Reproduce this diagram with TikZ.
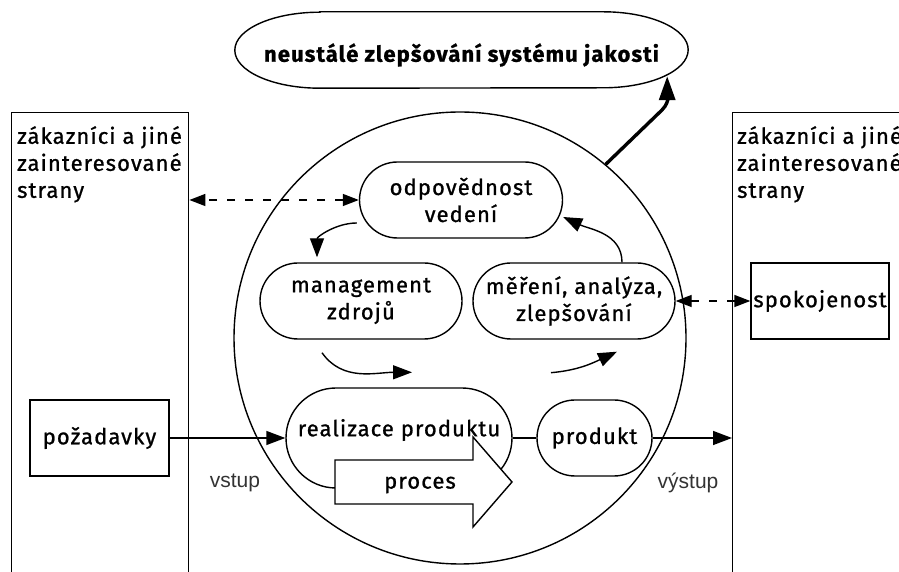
\documentclass[tikz,border=0pt]{standalone}
\usepackage{fontspec}
\setmainfont{Fira Sans}
\newfontfamily\boxfont{Fira Sans}[LetterSpace=5, FakeBold=1]
\newfontfamily\labelfont{Liberation Sans}
\usetikzlibrary{shapes.misc,shapes.geometric,arrows.meta,calc}

\newcommand\boxtext{\boxfont\fontsize{22}{27}\selectfont}
\newcommand\titletext{\boxfont\fontsize{22}{26}\selectfont\bfseries}

\begin{document}
\begin{tikzpicture}[x=1pt,y=1pt,
  outline/.style={line width=1.4pt},
  box/.style={draw, outline, rectangle, minimum height=76pt, inner sep=0pt, font=\boxtext},
  pill/.style={draw, outline, rounded rectangle, minimum height=76pt, inner sep=0pt, align=center, font=\boxtext},
  party/.style={draw, outline, rectangle, anchor=north west, minimum height=560pt, inner sep=0pt},
  partytext/.style={anchor=north west, align=left, inner sep=0pt, font=\boxtext},
  flow/.style={outline, -{Triangle[length=19pt,width=14pt]}},
  info/.style={outline, dashed, dash pattern=on 8pt off 10pt, {Triangle[length=16pt,width=12pt]}-{Triangle[length=16pt,width=12pt]}},
  improve/.style={line width=3.4pt, -{Triangle[length=24pt,width=16pt]}},
  io/.style={font=\labelfont\fontsize{21}{24}\selectfont, text=black!80, inner sep=0pt}]

\useasboundingbox (0,0) rectangle (899,572);
\clip (0,0) rectangle (899,572);

% continual improvement goal
\node[minimum width=453pt, minimum height=76pt, inner sep=0pt] (title) at (461.5,522) {};
\draw[outline] ([xshift=85]title.north west) -- ([xshift=-85]title.north east)
  arc[start angle=90, end angle=-90, x radius=85, y radius=38]
  -- ([xshift=85]title.south west)
  arc[start angle=270, end angle=90, x radius=85, y radius=38] -- cycle;
\node[font=\titletext] (titletext) at ([yshift=-5]title.center) {neustálé zlepšování systému jakosti};

% customers and other interested parties
\node[party, minimum width=177pt] (cl) at (11,460) {};
\node[partytext] (cltext) at ([shift={(6,-14)}]cl.north west) {zákazníci a jiné\\zainteresované\\strany};
\node[party, minimum width=230pt] (cr) at (732,460) {};
\node[partytext] (crtext) at ([shift={(5,-14)}]cr.north west) {zákazníci a jiné\\zainteresované\\strany};

% quality management system
\node[draw, outline, circle, minimum size=452pt, inner sep=0pt] (sys) at (460,234) {};

\node[pill, minimum width=203pt] (odp) at (461,372) {odpovědnost\\vedení};
\node[pill, minimum width=202pt] (mgmt) at (361,271) {management\\zdrojů};
\node[pill, minimum width=202pt] (mer) at (574,271) {měření, analýza,\\zlepšování};
\node[pill, minimum width=226pt, minimum height=100pt] (real) at (399,134) {};
\node[pill, minimum width=115pt] (prod) at (594.5,134) {produkt};

\node[box, minimum width=139pt] (poz) at (99.5,134) {požadavky};
\node[box, minimum width=138pt] (spok) at (820,271) {spokojenost};

% process arrow over the realization
\draw[outline, fill=white] (335,112) -- (473,112) -- (473,135) -- (512,90)
  -- (473,45) -- (473,68) -- (335,68) -- cycle;
\node[font=\boxtext, inner sep=0pt] (proc) at (420,87) {proces};
\node[font=\boxtext, inner sep=0pt] (realtext) at ([yshift=8]real.center) {realizace produktu};

% connectors
\draw[flow] (poz.east) -- (real.west);
\draw[outline] (real.east) -- (prod.west);
\draw[flow] (prod.east) -- (prod.east -| cr.west);
\draw[info] (odp.west) -- (odp.west -| cl.east);
\draw[info] (spok.west) -- (mer.east);

\draw[flow] ([shift={(-2,-23)}]odp.west) to[out=180, in=90] ([shift={(-44,5)}]mgmt.north);
\draw[flow] ([xshift=48]mer.north) to[out=90, in=-25] ([yshift=-17]odp.east);
\draw[flow] ([shift={(-39,-13)}]mgmt.south) to[out=-55, in=180] ([shift={(13,15)}]real.north);
\draw[flow] ([shift={(-23,-33)}]mer.south) to[out=5, in=205] ([shift={(43,-12)}]mer.south);

\coordinate (kink) at (662,462);
\draw[improve] (sys.50) -- (kink) to[out=45, in=-90] ([shift={(-21,12)}]title.south east);

\node[io] (in) at (235,89) {vstup};
\node[io] (out) at (688,89) {výstup};
\end{tikzpicture}
\end{document}
